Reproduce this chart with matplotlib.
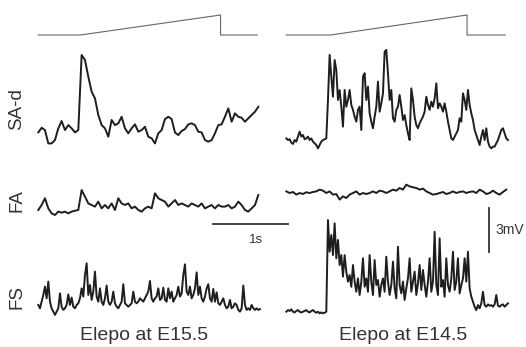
import numpy as np
import matplotlib
matplotlib.use('Agg')
import matplotlib.pyplot as plt

DT_COARSE = 1 / 22.5
DT_FINE = 1 / 45

# membrane potential, mV relative to the resting level
sad_e155 = [-0.05, 0.27, 0.11, -0.80, -0.80, -0.57, 0.23, 0.73, 0.11, 0.45,
            0.23, -0.05, 0.11, 5.23, 4.89, 3.75, 2.73, 2.27, 1.14, 0.45,
            0.23, -0.34, 0.80, 0.45, 0.57, 1.02, 0.23, -0.11, 0.23, 0.50,
            0.0, 0.11, 0.34, -0.34, -0.45, -0.80, -0.11, 0.11, 0.86, 1.02,
            0.86, -0.05, -0.23, 0.05, 0.18, 0.50, 0.57, 0.45, 0.0, -0.05,
            -0.57, -0.68, -0.57, -0.11, 0.45, 0.50, 1.02, 1.59, 0.68, 1.25,
            1.02, 0.95, 0.68, 0.91, 1.14, 1.36, 1.70]

sad_e145 = [0.11, 0.0, 0.05, -0.18, -0.27, 0.0, -0.11, 0.23, 0.57, 0.23,
            0.34, 0.05, 0.11, 0.23, 0.0, 0.11, -0.11, -0.23, -0.34, -0.57,
            -0.34, -0.11, 0.0, 0.05, 0.11,
            2.73, 5.80, 4.32, 2.95, 5.45, 4.77, 2.73, 3.41, 2.27, 0.91,
            3.41, 2.27, 2.73, 3.41, 2.39, 2.05, 1.59, 1.25, 2.05, 2.27,
            0.68, 4.32, 4.55, 2.73, 3.64, 1.82, 1.25, 0.80, 1.59, 2.27,
            3.98, 1.93, 2.50, 3.18, 6.02, 6.14, 4.55, 2.73, 3.41, 1.48,
            1.25, 2.05, 2.27, 3.07, 2.27, 1.36, 1.70, 1.02, 0.45, 0.0,
            3.52, 2.73, 1.59, 1.02, 0.80, 1.14, 1.36, 1.59, 1.93, 2.95,
            2.39, 2.05, 2.61, 2.27, 2.84, 3.86, 2.16, 2.50, 2.27, 1.93,
            2.50, 1.93, 1.25, 0.68, 0.11, 0.0, 0.23, 0.45, 0.68, 1.48,
            1.25, 3.18, 2.73, 2.05, 3.41, 2.39, 1.82, 1.36, 0.68, 0.34,
            0.0, -0.34, 0.23, 0.68, 0.0, 0.80, -0.11, -0.45, -0.57, -0.45,
            -0.45, -0.23, 0.0, 0.34, 0.68, 0.80, 0.45, 0.11, 0.0]

fa_e155 = [0.0, 0.34, 0.80, 0.11, -0.23, -0.34, -0.11, -0.18, -0.11, -0.23,
           -0.11, -0.05, 0.0, 1.36, 0.91, 0.45, 0.34, 0.23, 0.57, 0.11,
           0.34, 0.11, 0.45, 0.0, 0.80, 0.45, 0.34, 0.45, 0.11, 0.23,
           0.0, -0.11, 0.11, 0.23, 0.11, 1.14, 0.80, 0.68, 0.57, 0.23,
           0.45, 0.68, 0.34, 0.45, 0.34, 0.23, 0.45, 0.34, 0.23, 0.45,
           0.11, 0.23, 0.34, 0.11, 0.34, 0.23, 0.23, 0.34, 0.11, 0.23,
           0.57, 0.34, 0.0, -0.11, 0.11, 0.34, 1.02]

fa_e145 = [0.11, 0.0, 0.07, -0.11, 0.0, -0.07, 0.05, 0.0, 0.07, 0.11,
           0.23, 0.16, 0.0, 0.11, -0.11, -0.07, -0.45, -0.23, -0.34, -0.11,
           0.0, 0.11, -0.11, 0.0, -0.07, 0.0, 0.11, 0.0, 0.16, 0.11,
           0.0, 0.11, 0.23, 0.16, 0.34, 0.23, 0.57, 0.45, 0.39, 0.34,
           0.23, 0.30, 0.11, 0.0, -0.11, -0.07, 0.0, 0.07, -0.07, 0.0,
           0.11, 0.0, 0.07, 0.11, 0.0, 0.07, 0.11, 0.0, 0.23, 0.11,
           -0.07, 0.0, 0.16, 0.0, -0.11, 0.07, 0.23]

fs_e155 = [0.23, 0.0, 0.45, 0.91, 1.48, 0.68, 1.82, 0.45, 0.0, -0.23,
           -0.45, -0.23, 0.0, 1.02, 0.11, -0.11, 0.0, 0.23, 0.95, 0.23,
           0.73, 0.11, 0.0, 0.23, 0.34, 0.68, 1.36, 0.80, 2.27, 3.07,
           0.91, 1.59, 0.57, 1.14, 2.50, 0.80, 0.45, 1.36, 0.45, 0.23,
           0.68, 1.55, 0.45, 0.23, 0.45, 1.14, 0.34, 0.11, 0.0, 0.23,
           0.45, 1.64, 0.34, 0.23, 0.11, 0.23, 0.34, 1.14, 0.45, 0.34,
           0.45, 0.68, 0.57, 0.45, 0.68, 0.91, 1.14, 1.86, 0.68, 0.45,
           0.68, 0.80, 1.36, 0.57, 0.68, 1.41, 0.57, 0.45, 1.36, 0.68,
           1.14, 0.45, 0.68, 0.91, 1.48, 0.80, 1.02, 2.27, 3.00, 1.14,
           0.91, 1.48, 0.68, 0.91, 1.36, 2.45, 0.91, 1.48, 0.68, 0.45,
           0.80, 1.36, 1.64, 0.68, 0.45, 1.32, 0.45, 1.09, 0.34, 0.23,
           0.45, 0.68, 0.23, 0.0, 0.11, 0.57, 0.0, 0.11, 0.34, 0.23,
           -0.11, -0.23, 0.0, 1.55, 0.23, -0.11, 0.0, -0.11, 0.23, 0.0,
           -0.11, 0.0, -0.11, -0.05]

fs_e145 = [0.0, 0.11, 0.05, 0.16, 0.0, -0.05, 0.05, 0.11, 0.0, -0.05,
           0.0, 0.05, 0.11, 0.0, -0.05, 0.05, 0.11, 0.0, -0.07, 0.0,
           -0.11, -0.05, -0.11, -0.07, 0.0,
           6.25, 4.09, 5.23, 3.86, 6.02, 3.64, 4.89, 3.18, 3.86, 2.39,
           3.86, 2.73, 2.05, 2.50, 1.70, 3.18, 2.05, 1.36, 2.27, 1.14,
           2.05, 3.64, 1.70, 2.27, 1.36, 3.86, 2.05, 1.14, 3.52, 1.82,
           2.16, 1.02, 1.82, 2.27, 1.36, 3.75, 2.05, 1.14, 1.82, 3.41,
           1.59, 0.91, 4.43, 1.82, 1.25, 2.05, 0.80, 1.59, 2.27, 3.64,
           1.36, 2.05, 2.73, 1.14, 1.93, 3.18, 1.48, 2.84, 1.82, 1.02,
           2.05, 3.64, 1.36, 2.05, 5.45, 1.82, 1.14, 5.00, 1.70, 2.16,
           1.02, 3.64, 1.82, 1.36, 2.27, 4.09, 1.48, 2.05, 3.64, 1.25,
           1.82, 2.27, 3.64, 2.05, 4.09, 1.59, 1.02, 0.68, 0.34, 0.11,
           0.45, 0.23, 0.57, 1.36, 0.45, 0.34, 0.50, 0.41, 0.45, 0.34,
           0.50, 1.14, 0.41, 0.34, 0.45, 0.50, 0.34, 0.45, 0.57]

# stimulus ramp: time (s) and relative amplitude
stim_t_e155 = [0, 0.56, 2.43, 2.43, 2.92]
stim_t_e145 = [0, 0.59, 2.41, 2.41, 2.92]
stim_level = [0, 0, 1, 0, 0]

row_labels = ['SA-d', 'FA', 'FS']
col_titles = ['Elepo at E15.5', 'Elepo at E14.5']
scale_s = 1
scale_mv = 3

# layout in figure pixels
PX_S = 75.0
PX_MV = 14.67
col_x0 = [38.3, 286.3]
stim_y0 = 35
stim_h = 20

traces = [
    (sad_e155, DT_COARSE, 0, 131.7),
    (sad_e145, DT_FINE, 1, 140.0),
    (fa_e155, DT_COARSE, 0, 210.0),
    (fa_e145, DT_COARSE, 1, 193.0),
    (fs_e155, DT_FINE, 0, 308.3),
    (fs_e145, DT_FINE, 1, 311.7),
]

plt.rcParams['font.family'] = ['Liberation Sans', 'DejaVu Sans']

fig = plt.figure(figsize=(5.26, 3.47), dpi=100)
ax = fig.add_axes([0, 0, 1, 1])
ax.set_xlim(0, 526)
ax.set_ylim(347, 0)
ax.axis('off')

for col, st in enumerate([stim_t_e155, stim_t_e145]):
    ax.plot(col_x0[col] + np.array(st) * PX_S,
            stim_y0 - np.array(stim_level) * stim_h,
            color='#666666', lw=0.8)

for v, dt, col, y0 in traces:
    v = np.array(v)
    t = np.arange(len(v)) * dt
    ax.plot(col_x0[col] + t * PX_S, y0 - v * PX_MV,
            color='#1e1e1e', lw=1.4, solid_joinstyle='round')

# scale bars
ax.plot([213, 213 + scale_s * PX_S], [224, 224], color='#333333', lw=1.3)
ax.plot([489, 489], [252, 252 - scale_mv * PX_MV], color='#333333', lw=1.3)
ax.text(263, 240, f'{scale_s}s', ha='right', va='center', fontsize=9.5,
        color='#333333')
ax.text(495, 230, f'{scale_mv}mV', ha='left', va='center', fontsize=10,
        color='#333333')

for label, yc in zip(row_labels, [109, 201, 297]):
    ax.text(17, yc, label, rotation=90, ha='center', va='center',
            fontsize=13.5, color='#333333')

for title, xc in zip(col_titles, [144, 403]):
    ax.text(xc, 336, title, ha='center', va='center', fontsize=14,
            color='#333333')

fig.savefig('out.png', dpi=100)
